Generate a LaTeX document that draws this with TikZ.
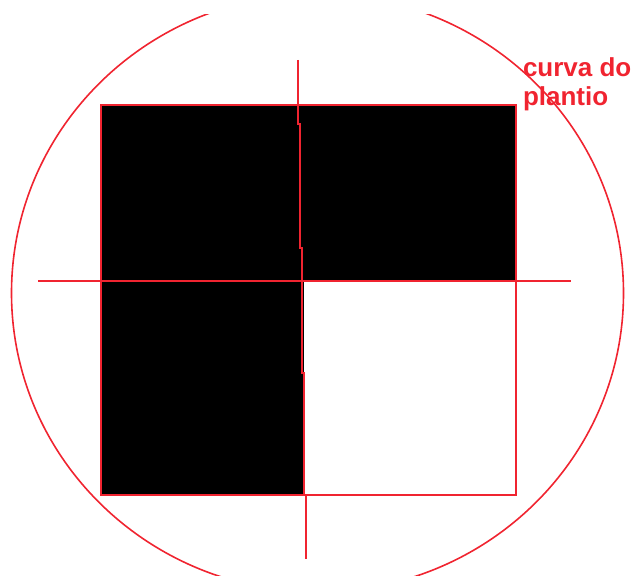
\documentclass[tikz,border=0pt]{standalone}
\usepackage{fontspec}
\setmainfont{Liberation Sans}
\usetikzlibrary{positioning}
\definecolor{plantred}{RGB}{240,36,48}

\begin{document}
\begin{tikzpicture}[x=0.02cm, y=-0.02cm, line width=0.04cm]

        % --- PARAMETERS ---
        \def\cx{317.5} \def\cy{293}
        \def\rx{306} \def\ry{299}
        \useasboundingbox (0,0) rectangle (635,577);

        % --- QUADRANTS ---
        \coordinate (TL) at (101,105);
        \coordinate (BR) at (516,495);
        \fill[black] (TL) rectangle (BR);
        \fill[white] (304,281) rectangle (BR);
        \draw[plantred] (TL) rectangle (BR);

        % --- AXES ---
        \coordinate (H_l) at (38,281);
        \coordinate (H_r) at (571,281);
        \coordinate (V_t) at (298,60);
        \coordinate (V_b) at (306,559);
        \draw[plantred] (H_l) -- (H_r);
        \draw[plantred, line join=miter] (V_t) -- (298,124) -- (300,124) -- (300,248)
            -- (302,248) -- (302,373) -- (304,373) -- (304,495)
            -- (306,495) -- (V_b);

        % --- CURVE ---
        \begin{scope}
            \clip (0,15) rectangle (635,575);
            \draw[plantred, line width=0.032cm] (\cx,\cy) ellipse ({\rx} and {\ry});
        \end{scope}
        \node[plantred, anchor=north west, inner sep=0pt, align=left,
              font=\bfseries\fontsize{14.8pt}{16.2pt}\selectfont] (label) at (522,57)
              {curva do\\plantio};

    \end{tikzpicture}
\end{document}
